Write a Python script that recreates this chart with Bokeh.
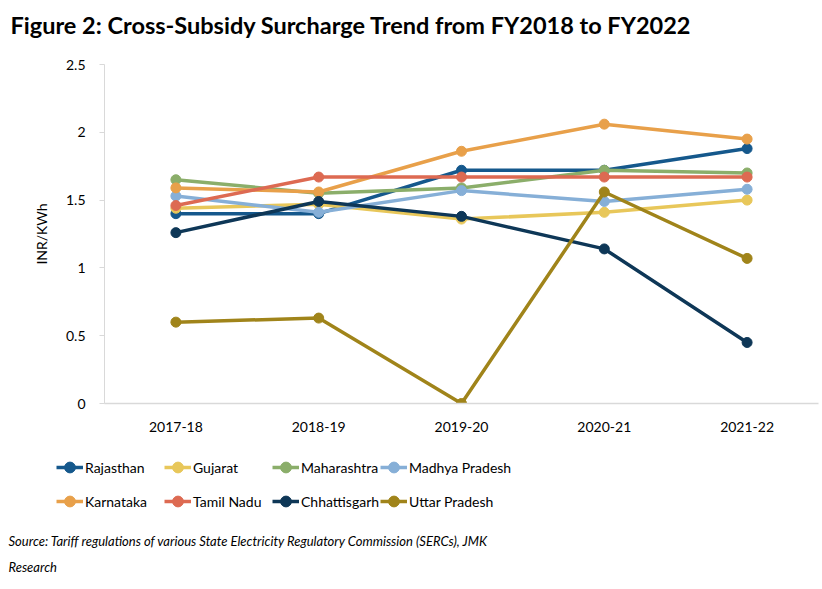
from bokeh.plotting import figure
from bokeh.layouts import column
from bokeh.models import Range1d, FactorRange, Legend, LegendItem, Label
from bokeh.embed import file_html
from bokeh.resources import INLINE

FONT = "Lato"
W = 822
NAN = float("nan")

years = ["2017-18", "2018-19", "2019-20", "2020-21", "2021-22"]

rajasthan = [1.40, 1.40, 1.72, 1.72, 1.88]
gujarat = [1.44, 1.47, 1.36, 1.41, 1.50]
maharashtra = [1.65, 1.55, 1.59, 1.72, 1.70]
madhya_pradesh = [1.53, 1.41, 1.57, 1.49, 1.58]
karnataka = [1.59, 1.56, 1.86, 2.06, 1.95]
tamil_nadu = [1.46, 1.67, 1.67, 1.67, 1.67]
chhattisgarh = [1.26, 1.49, 1.38, 1.14, 0.45]
uttar_pradesh = [0.60, 0.63, 0.00, 1.56, 1.07]

states = ["Rajasthan", "Gujarat", "Maharashtra", "Madhya Pradesh",
          "Karnataka", "Tamil Nadu", "Chhattisgarh", "Uttar Pradesh"]
series = [rajasthan, gujarat, maharashtra, madhya_pradesh,
          karnataka, tamil_nadu, chhattisgarh, uttar_pradesh]
colors = ["#15588C", "#E8C75A", "#8BAE6A", "#86AFD7",
          "#E8A04A", "#DD6A52", "#0E3757", "#A0841A"]

title_text = "Figure 2: Cross-Subsidy Surcharge Trend from FY2018 to FY2022"
source_lines = ["Source: Tariff regulations of various State Electricity Regulatory Commission (SERCs), JMK",
                "Research"]


def blank(height):
    """A bare canvas whose data units are pixels from its top-left corner."""
    f = figure(width=W, height=height, x_range=Range1d(0, W),
               y_range=Range1d(height, 0), output_backend="svg",
               toolbar_location=None, min_border=0, frame_align=False)
    f.axis.visible = False
    f.grid.visible = False
    f.outline_line_color = None
    return f


# ---- title strip ----
top = blank(48)
top.add_layout(Label(x=10, y=24, text=title_text, text_font=FONT,
                     text_font_size="23.5px", text_font_style="bold",
                     text_baseline="middle", text_color="#000000"))

# ---- main chart ----
p = figure(width=W, height=397, x_range=FactorRange(*years),
           y_range=Range1d(0, 2.5), output_backend="svg",
           toolbar_location=None, min_border_left=104, min_border_right=4,
           min_border_top=16, min_border_bottom=42, frame_align=False)
p.outline_line_color = None
p.xgrid.grid_line_color = None
p.ygrid.grid_line_color = None

p.yaxis.ticker = [0, 0.5, 1, 1.5, 2, 2.5]
p.yaxis.major_label_overrides = {0: "0", 0.5: "0.5", 1: "1", 1.5: "1.5", 2: "2", 2.5: "2.5"}
p.yaxis.axis_line_color = "#D9D9D9"
p.yaxis.major_tick_line_color = "#D9D9D9"
p.yaxis.major_tick_in = 0
p.yaxis.major_tick_out = 5
p.yaxis.minor_tick_line_color = None
p.yaxis.major_label_text_font = FONT
p.yaxis.major_label_text_font_size = "14px"
p.yaxis.major_label_text_color = "#000000"
p.yaxis.major_label_standoff = 14
p.yaxis.axis_label = "INR/KWh"
p.yaxis.axis_label_text_font = FONT
p.yaxis.axis_label_text_font_size = "14px"
p.yaxis.axis_label_text_font_style = "normal"
p.yaxis.axis_label_text_color = "#000000"
p.yaxis.axis_label_standoff = 13

p.xaxis.axis_line_color = "#D9D9D9"
p.xaxis.axis_line_width = 1.5
p.xaxis.major_tick_line_color = None
p.xaxis.minor_tick_line_color = None
p.xaxis.major_label_text_font = FONT
p.xaxis.major_label_text_font_size = "14px"
p.xaxis.major_label_text_color = "#000000"
p.xaxis.major_label_standoff = 12

for vals, col in zip(series, colors):
    p.line(years, vals, line_color=col, line_width=3.5)
    p.scatter(years, vals, size=10, fill_color=col, line_color=col)

# ---- legend and source strip ----
bottom = blank(144)
items = {}
for name, col in zip(states, colors):
    ln = bottom.line(x=[NAN], y=[NAN], line_color=col, line_width=3.5)
    pt = bottom.scatter(x=[NAN], y=[NAN], size=10, fill_color=col, line_color=col)
    items[name] = LegendItem(label=name, renderers=[ln, pt])

# the legend grid fills column by column: pair each state with the one below it
order = [states[i + 4 * r] for i in range(4) for r in range(2)]
legend = Legend(items=[items[n] for n in order], ncols=4, location=(56, 71),
                glyph_width=27, glyph_height=34, label_height=34,
                label_width=79, label_standoff=2, spacing=0,
                padding=0, margin=0, border_line_alpha=0,
                background_fill_alpha=0,
                label_text_font=FONT, label_text_font_size="14px",
                label_text_color="#000000")
bottom.add_layout(legend)

for i, line_text in enumerate(source_lines):
    bottom.add_layout(Label(x=8, y=95 + 26 * i, text=line_text, text_font=FONT,
                            text_font_size="13px", text_font_style="italic",
                            text_baseline="middle", text_color="#000000"))

layout = column(top, p, bottom, spacing=0)
open("out.html", "w").write(file_html(layout, INLINE))
